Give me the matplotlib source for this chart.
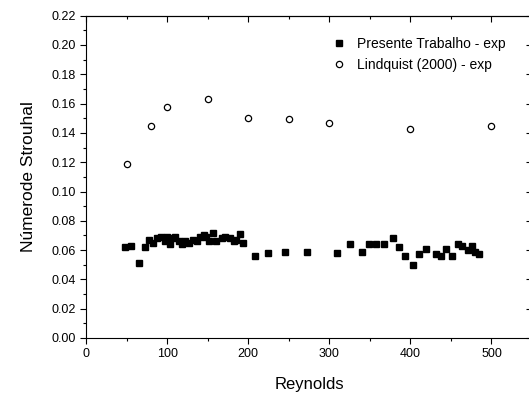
import matplotlib
matplotlib.use("Agg")
import matplotlib.pyplot as plt
from matplotlib.ticker import MultipleLocator, FuncFormatter

plt.rcParams['font.family'] = ['Liberation Sans', 'DejaVu Sans']

# Presente Trabalho - exp
re_pt = [48, 56, 65, 73, 78, 83, 88, 93, 97, 100, 103, 107, 110, 115, 118, 122,
         127, 132, 137, 140, 145, 148, 152, 157, 160, 168, 172, 177, 182, 185,
         190, 193, 208, 225, 246, 272, 310, 325, 340, 349, 358, 367, 378, 386,
         394, 403, 411, 419, 431, 438, 444, 451, 459, 464, 471, 476, 480, 485]
st_pt = [0.062, 0.063, 0.051, 0.062, 0.067, 0.065, 0.068, 0.069, 0.066, 0.069,
         0.064, 0.068, 0.069, 0.066, 0.064, 0.066, 0.065, 0.067, 0.066, 0.069,
         0.070, 0.069, 0.066, 0.072, 0.066, 0.068, 0.069, 0.068, 0.066, 0.067,
         0.071, 0.065, 0.056, 0.058, 0.059, 0.059, 0.058, 0.064, 0.059, 0.064,
         0.064, 0.064, 0.068, 0.062, 0.056, 0.050, 0.057, 0.061, 0.057, 0.056,
         0.061, 0.056, 0.064, 0.063, 0.060, 0.063, 0.059, 0.057]

# Lindquist (2000) - exp
re_lq = [50, 80, 100, 150, 200, 250, 300, 400, 500]
st_lq = [0.119, 0.145, 0.1575, 0.163, 0.1505, 0.1495, 0.1465, 0.1425, 0.1445]

fig = plt.figure(figsize=(5.29, 3.95), dpi=100)
ax = fig.add_axes([86/529, 57/395, 446/529, 322.3/395])

ax.plot(re_pt, st_pt, linestyle='none', marker='s', markersize=4.8,
        color='black', label='Presente Trabalho - exp')
ax.plot(re_lq, st_lq, linestyle='none', marker='o', markersize=4.5,
        markerfacecolor='white', markeredgecolor='black', markeredgewidth=0.9,
        label='Lindquist (2000) - exp')

ax.set_xlim(0, 550)
ax.set_ylim(0, 0.22)
ax.xaxis.set_major_locator(MultipleLocator(100))
ax.xaxis.set_minor_locator(MultipleLocator(50))
ax.yaxis.set_major_locator(MultipleLocator(0.02))
ax.yaxis.set_minor_locator(MultipleLocator(0.01))
ax.yaxis.set_major_formatter(FuncFormatter(lambda v, p: f"{v:.2f}"))

ax.tick_params(axis='both', which='both', direction='out', labelsize=9,
               width=0.8)
ax.tick_params(which='major', length=4)
ax.tick_params(which='minor', length=2.5)

# inward ticks on top and right
top = ax.secondary_xaxis('top')
top.xaxis.set_major_locator(MultipleLocator(100))
top.xaxis.set_minor_locator(MultipleLocator(50))
top.tick_params(which='both', direction='in', labeltop=False, width=0.8)
top.tick_params(which='major', length=4)
top.tick_params(which='minor', length=2.5)
right = ax.secondary_yaxis('right')
right.yaxis.set_major_locator(MultipleLocator(0.02))
right.yaxis.set_minor_locator(MultipleLocator(0.01))
right.tick_params(which='both', direction='in', labelright=False, width=0.8)
right.tick_params(which='major', length=4)
right.tick_params(which='minor', length=2.5)

for s in ax.spines.values():
    s.set_linewidth(0.8)

ax.set_xlabel('Reynolds', fontsize=12, labelpad=12)
ax.set_ylabel('Númerode Strouhal', fontsize=12.5, labelpad=11)

ax.legend(loc='upper left', bbox_to_anchor=(0.52, 0.965), frameon=False,
          fontsize=10, handletextpad=0.5, labelspacing=0.55, borderpad=0.2,
          handlelength=1.6)

fig.savefig('out.png', dpi=100)
